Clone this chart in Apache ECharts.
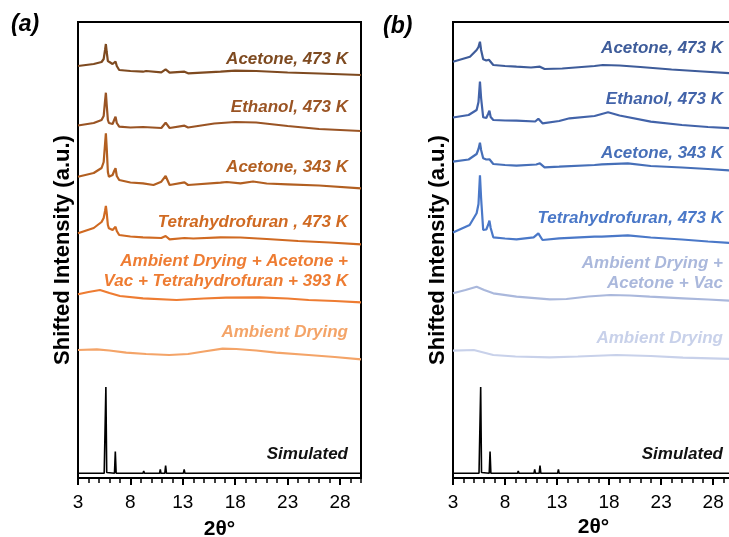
<!DOCTYPE html>
<html>
<head>
    <meta charset="utf-8" />
    <title>XRD patterns</title>
    <script src="https://cdn.jsdelivr.net/npm/echarts@6/dist/echarts.min.js"></script>
    <style type="text/css">
        html, body { margin: 0; width: 100%; height: 100%; background: #fff; }
        #chart { width: 729px; height: 537px; }
    </style>
</head>
<body>
    <div id="chart"></div>
    <script>
        // x = 2theta (deg), y = shifted intensity (a.u.)
        var simulated = [[3, 4.7], [5.5, 4.7], [5.58, 5.5], [5.66, 91], [5.74, 5.5], [5.85, 4.7],
            [6.48, 4.7], [6.56, 26.5], [6.64, 4.7], [9.2, 4.7], [9.27, 7], [9.34, 4.7],
            [10.78, 4.7], [10.85, 8.7], [10.92, 4.7], [11.28, 4.7], [11.36, 12.3], [11.44, 4.7],
            [13.05, 4.7], [13.13, 8.7], [13.2, 4.7], [14.8, 4.7], [14.85, 6], [14.9, 4.7],
            [17, 4.7], [17.05, 6.5], [17.1, 4.7], [19.6, 4.7], [19.65, 6], [19.7, 4.7],
            [20, 4.7], [20.05, 6], [20.1, 4.7], [23.8, 4.7], [23.85, 6], [23.9, 4.7],
            [24.9, 4.7], [24.95, 6], [25, 4.7], [25.7, 4.7], [25.75, 5.8], [25.8, 4.7],
            [26.6, 4.7], [26.65, 5.8], [26.7, 4.7], [27.6, 4.7], [27.65, 5.8], [27.7, 4.7],
            [28.5, 4.7], [28.55, 6], [28.6, 4.7], [29.2, 4.7], [29.25, 5.8], [29.3, 4.7], [30, 4.7]];

        // panel (a)
        var aAcetone473 = [[3, 412], [4.5, 414], [5.25, 416], [5.45, 419], [5.58, 428], [5.66, 434],
            [5.74, 426], [5.85, 417], [5.95, 415], [6.3, 414], [6.45, 415], [6.58, 416.5], [6.7, 412],
            [6.93, 408], [8, 407], [9.2, 406.3], [9.5, 407], [10.95, 405.7], [11.36, 408.7],
            [11.74, 405.3], [13.16, 406.3], [13.5, 404.7], [16.6, 406.3], [18, 407.3], [20, 407],
            [23, 405.5], [26, 404.5], [30, 403]];
        var aEthanol473 = [[3, 352.5], [4.5, 355], [5.25, 358], [5.45, 362], [5.58, 377], [5.66, 385.3],
            [5.74, 373], [5.85, 358], [5.95, 355], [6.3, 354], [6.45, 358], [6.58, 361.3], [6.7, 355],
            [6.93, 351.3], [8, 350.5], [9.2, 351], [10.95, 350], [11.36, 355.3],
            [11.74, 350], [13.16, 352.3], [13.5, 350.5], [16, 354.5], [18, 356], [20, 355.5],
            [23, 352], [26, 349], [30, 347]];
        var aAcetone343 = [[3, 301.3], [4.5, 305], [5.25, 310], [5.45, 316], [5.58, 334], [5.66, 344.7],
            [5.74, 330], [5.85, 306], [5.95, 301.3], [6.3, 303], [6.45, 307], [6.58, 309.7], [6.7, 302],
            [6.93, 298], [8, 295.5], [9.2, 294.7], [10.2, 293], [10.95, 296.3], [11.36, 302],
            [11.74, 293], [13.16, 295.7], [13.5, 293], [16.6, 295.3], [17.2, 296], [18.5, 294.7],
            [19.7, 296.5], [21, 294.5], [23, 293.7], [26, 292.5], [30, 289.7]];
        var aThf473 = [[3, 244.7], [4.5, 250], [5.25, 256], [5.45, 260], [5.58, 267], [5.66, 272],
            [5.74, 265], [5.85, 253], [5.95, 249.7], [6.3, 248], [6.45, 250], [6.58, 251.3], [6.7, 247],
            [6.93, 243], [8, 241.5], [9.2, 240.7], [10.95, 240], [11.36, 242],
            [11.74, 238.7], [13.16, 240], [14, 239.5], [16.6, 240.7], [18.5, 240.5], [21, 239],
            [24, 237], [27, 235.5], [30, 233.7]];
        var aAmbientMix = [[3, 183.7], [4, 186], [5.1, 188], [6, 185], [7, 182], [9.2, 179.7],
            [12.4, 178], [15, 179.5], [17.1, 180.3], [20.3, 180.7], [23, 179.5], [25, 178],
            [27.5, 177], [30, 175.7]];
        var aAmbient = [[3, 128], [4.8, 128.7], [6, 127.5], [7.6, 125.3], [9.5, 124], [11.7, 123],
            [13.5, 124], [15, 126.5], [16.8, 129.3], [18.1, 129], [20, 127.5], [21.9, 125.3],
            [25, 123], [27.5, 121], [30, 118.7]];

        // panel (b)
        var bAcetone473 = [[3, 416.3], [4.63, 421.3], [5.27, 428], [5.45, 431], [5.59, 436.3], [5.7, 428],
            [5.9, 418.7], [6.2, 417.5], [6.45, 418.3], [6.87, 413], [8, 412], [9.1, 411.3], [10.5, 410.5],
            [11.35, 411.3], [11.8, 409], [13.5, 409.5], [16.6, 412], [17.4, 413], [19, 412.5], [21, 411],
            [24, 408.5], [27, 406.5], [30, 404.5]];
        var bEthanol473 = [[3, 360.5], [4.5, 363], [5.27, 368], [5.45, 376], [5.59, 396.3], [5.7, 380],
            [5.9, 360.7], [6.2, 360], [6.37, 364], [6.5, 367.3], [6.62, 361], [6.87, 358], [8, 357.5],
            [9.1, 357.3], [10.9, 356.5], [11.2, 359.3], [11.6, 354.7], [13.2, 357], [14.2, 359.7],
            [16.6, 362], [17.9, 365.7], [19, 362.5], [22, 356.3], [25, 353], [27.5, 351], [30, 349.7]];
        var bAcetone343 = [[3, 316.3], [4.5, 318.5], [5.27, 324], [5.45, 329], [5.59, 335.3], [5.7, 328],
            [5.9, 319.7], [6.2, 318.5], [6.5, 318.7], [6.87, 314], [8, 313], [9.1, 312.3], [11, 313.5],
            [11.35, 314.7], [11.8, 310.7], [13.2, 311.3], [16.6, 313], [17.3, 313.7], [19.8, 314.7],
            [22, 312], [25, 310.5], [27.5, 309], [30, 307.3]];
        var bThf473 = [[3, 245.5], [4.6, 253], [5.27, 264.7], [5.45, 274], [5.59, 302.7], [5.7, 280],
            [5.9, 248], [6.2, 248.5], [6.37, 253], [6.5, 257.3], [6.62, 250], [6.87, 240.7], [8, 239.5],
            [9.1, 238.7], [10.75, 240.7], [11.2, 244.7], [11.6, 238], [13.2, 239.7], [16.6, 241.3],
            [17.3, 241.3], [19.8, 242.7], [22, 240.5], [25, 238.5], [27.5, 236.5], [30, 234.7]];
        var bAmbientVac = [[3, 184.7], [4.2, 188], [5.27, 191.3], [6, 188], [6.87, 184.7], [9.1, 181.3],
            [12.3, 178.7], [13.9, 179], [16, 181.5], [18.1, 183], [20, 182.5], [21.9, 181.3],
            [25.1, 179.7], [27.5, 178.5], [30, 177]];
        var bAmbient = [[3, 127.3], [5, 128], [6.87, 123], [9, 121.5], [12.3, 120.7], [15, 121.5],
            [18.7, 123], [22, 122], [25.1, 120.3], [30, 119]];

        var labelsA = ['Acetone, 473 K', 'Ethanol, 473 K', 'Acetone, 343 K', 'Tetrahydrofuran , 473 K',
            'Ambient Drying + Acetone +\nVac + Tetrahydrofuran + 393 K', 'Ambient Drying', 'Simulated'];
        var labelsB = ['Acetone, 473 K', 'Ethanol, 473 K', 'Acetone, 343 K', 'Tetrahydrofuran, 473 K',
            'Ambient Drying +\nAcetone + Vac', 'Ambient Drying', 'Simulated'];

        var seriesA = [aAcetone473, aEthanol473, aAcetone343, aThf473, aAmbientMix, aAmbient, simulated];
        var seriesB = [bAcetone473, bEthanol473, bAcetone343, bThf473, bAmbientVac, bAmbient, simulated];
        var colorsA = ['#7e4a20', '#9a5424', '#b25f21', '#d06a22', '#ee7c32', '#f4a468', '#000000'];
        var colorsB = ['#3e5c9a', '#4263a9', '#466fb8', '#4a78c8', '#aab8dc', '#c8d1ea', '#000000'];
        var labelYA = [59, 107, 167, 222, 271, 332, 454];
        var labelYB = [48, 99, 153, 218, 273, 338, 454];

        var font = '"Liberation Sans", Arial, sans-serif';
        var chart = echarts.init(document.getElementById('chart'));

        function xAxes(grid, nameGap) {
            return [{
                gridIndex: grid, type: 'value', position: 'bottom', min: 3, max: 30, interval: 5,
                name: '2θ°', nameLocation: 'middle', nameGap: nameGap,
                nameTextStyle: { fontFamily: font, fontSize: 21, fontWeight: 'bold', color: '#000' },
                axisLine: { lineStyle: { color: '#000', width: 2 } },
                axisTick: { length: 7, lineStyle: { color: '#000', width: 2 } },
                axisLabel: { fontFamily: font, fontSize: 19, color: '#000', margin: 15, showMaxLabel: false },
                splitLine: { show: false }
            }, {
                gridIndex: grid, type: 'value', position: 'bottom', min: 3, max: 30, interval: 1,
                axisLine: { show: false },
                axisTick: { length: 5, lineStyle: { color: '#000', width: 1.5 } },
                axisLabel: { show: false },
                splitLine: { show: false }
            }];
        }

        function yAxis(grid) {
            return {
                gridIndex: grid, type: 'value', min: 0, max: 456,
                name: 'Shifted Intensity (a.u.)', nameLocation: 'middle', nameGap: 4,
                nameTextStyle: { fontFamily: font, fontSize: 22, fontWeight: 'bold', color: '#000' },
                axisLine: { show: true, lineStyle: { color: '#000', width: 2 } },
                axisTick: { show: false },
                axisLabel: { show: false },
                splitLine: { show: false }
            };
        }

        var series = [];
        var graphic = [];
        function addPanel(list, colors, labels, labelY, xIdx, yIdx, rightX) {
            list.forEach(function (d, i) {
                series.push({
                    type: 'line', data: d, xAxisIndex: xIdx, yAxisIndex: yIdx,
                    showSymbol: false, silent: true,
                    lineStyle: { color: colors[i], width: i === 6 ? 1.6 : 2.2 }
                });
                graphic.push({
                    type: 'text', x: rightX, y: labelY[i],
                    style: {
                        text: labels[i], fill: i === 6 ? '#111' : colors[i],
                        fontFamily: font, fontSize: 17, fontWeight: 'bold', fontStyle: 'italic',
                        align: 'right', verticalAlign: 'middle', lineHeight: 20
                    }
                });
            });
        }
        addPanel(seriesA, colorsA, labelsA, labelYA, 0, 0, 348);
        addPanel(seriesB, colorsB, labelsB, labelYB, 2, 1, 723);

        graphic.push({ type: 'text', x: 11, y: 25, style: { text: '(a)', fontFamily: font, fontSize: 23, fontWeight: 'bold', fontStyle: 'italic', fill: '#000', verticalAlign: 'middle' } });
        graphic.push({ type: 'text', x: 383, y: 27, style: { text: '(b)', fontFamily: font, fontSize: 23, fontWeight: 'bold', fontStyle: 'italic', fill: '#000', verticalAlign: 'middle' } });

        chart.setOption({
            animation: false,
            backgroundColor: '#fff',
            grid: [
                { left: 78, top: 22, width: 283, height: 456, show: true, borderColor: '#000', borderWidth: 2, containLabel: false, outerBoundsMode: 'none' },
                { left: 453, top: 22, width: 281, height: 456, show: true, borderColor: '#000', borderWidth: 2, containLabel: false, outerBoundsMode: 'none' }
            ],
            xAxis: xAxes(0, 41).concat(xAxes(1, 26)),
            yAxis: [yAxis(0), yAxis(1)],
            series: series,
            graphic: graphic
        });
    </script>
</body>
</html>
